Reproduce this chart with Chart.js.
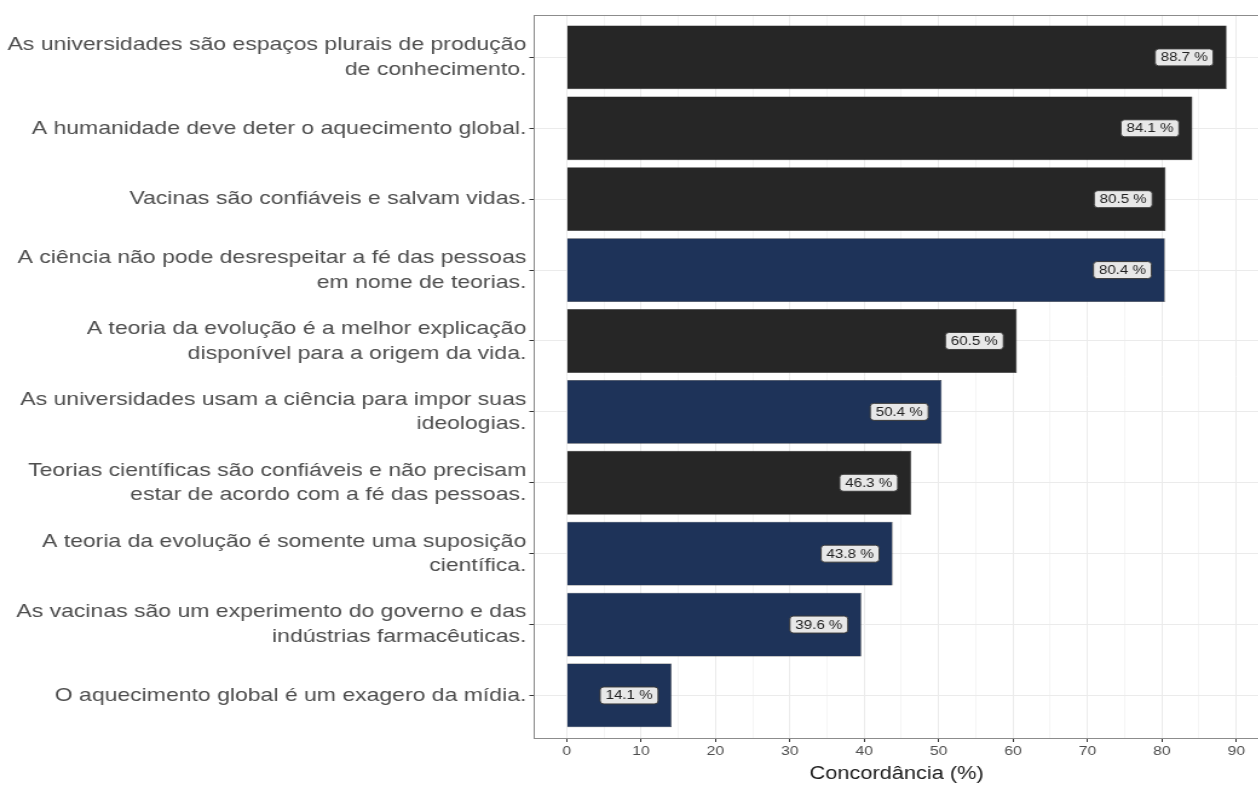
<!DOCTYPE html>
<html>
<head>
<meta charset="utf-8">
<script src="https://cdn.jsdelivr.net/npm/chart.js@4.4.1/dist/chart.umd.min.js"></script>
<style>
  html, body { margin: 0; padding: 0; background: #ffffff; overflow: hidden; }
  #wrap { position: relative; width: 1258px; height: 785px; overflow: hidden; }
  /* the figure is laid out narrow and widened horizontally */
  #c { position: absolute; left: 0; top: 0; transform: scaleX(1.21); transform-origin: 0 0; }
</style>
</head>
<body>
<div id="wrap"><canvas id="c" width="1044" height="785"></canvas></div>
<script>
// Statements, top to bottom (each entry is the wrapped label lines)
const statements = [
  ["As universidades são espaços plurais de produção", "de conhecimento."],
  ["A humanidade deve deter o aquecimento global."],
  ["Vacinas são confiáveis e salvam vidas."],
  ["A ciência não pode desrespeitar a fé das pessoas", "em nome de teorias."],
  ["A teoria da evolução é a melhor explicação", "disponível para a origem da vida."],
  ["As universidades usam a ciência para impor suas", "ideologias."],
  ["Teorias científicas são confiáveis e não precisam", "estar de acordo com a fé das pessoas."],
  ["A teoria da evolução é somente uma suposição", "científica."],
  ["As vacinas são um experimento do governo e das", "indústrias farmacêuticas."],
  ["O aquecimento global é um exagero da mídia."]
];
// Share of agreement (%)
const agreement = [88.7, 84.1, 80.5, 80.4, 60.5, 50.4, 46.3, 43.8, 39.6, 14.1];
// Statement group: "pro" = pro-science wording, "contra" = sceptical wording
const groups = ["pro", "pro", "pro", "contra", "pro", "contra", "pro", "contra", "contra", "contra"];
const xTicks = [0, 10, 20, 30, 40, 50, 60, 70, 80, 90];
const xTitle = "Concordância (%)";

const groupColors = { pro: "#262626", contra: "#1e3359" };
const FONT = "'Liberation Sans', Arial, sans-serif";

// Value boxes drawn inside the bars, like ggplot's geom_label
const valueLabels = {
  id: "valueLabels",
  afterDatasetsDraw(chart) {
    const { ctx } = chart;
    const xs = chart.scales.x, ys = chart.scales.y;
    ctx.save();
    ctx.font = "12.5px " + FONT;
    ctx.textAlign = "center";
    ctx.textBaseline = "middle";
    agreement.forEach((v, i) => {
      const txt = v.toFixed(1) + " %";
      const cx = xs.getPixelForValue(v - 5.7);
      const cy = ys.getPixelForValue(i);
      const w = ctx.measureText(txt).width + 9, h = 17;
      const x0 = cx - w / 2, y0 = cy - h / 2, r = 3;
      ctx.beginPath();
      ctx.roundRect(x0, y0, w, h, r);
      ctx.fillStyle = "#e8e8e8";
      ctx.fill();
      ctx.lineWidth = 1;
      ctx.strokeStyle = "#3a3a3a";
      ctx.stroke();
      ctx.fillStyle = "#222222";
      ctx.fillText(txt, cx, cy + 0.5);
    });
    ctx.restore();
  }
};

// Panel border around the plotting area
const panelBorder = {
  id: "panelBorder",
  afterDraw(chart) {
    const a = chart.chartArea, ctx = chart.ctx;
    ctx.save();
    ctx.strokeStyle = "#8c8c8c";
    ctx.lineWidth = 1;
    ctx.strokeRect(Math.round(a.left) + 0.5, Math.round(a.top) + 0.5,
                   Math.round(a.right - a.left), Math.round(a.bottom - a.top));
    ctx.restore();
  }
};

new Chart(document.getElementById("c"), {
  type: "bar",
  data: {
    datasets: [{
      data: agreement.map((v, i) => ({ x: v, y: i })),
      backgroundColor: groups.map(g => groupColors[g]),
      borderColor: "#1a1a1a",
      borderWidth: 0.5,
      barPercentage: 0.9,
      categoryPercentage: 1.0
    }]
  },
  options: {
    indexAxis: "y",
    responsive: false,
    animation: false,
    layout: { padding: { top: 12, right: 3, left: 0, bottom: 0 } },
    plugins: { legend: { display: false }, tooltip: { enabled: false } },
    scales: {
      x: {
        type: "linear",
        min: -agreement[0] * 0.05,
        max: agreement[0] * 1.05,
        afterBuildTicks(scale) {
          const t = [];
          for (let v = 0; v <= 90; v += 5) t.push({ value: v });
          scale.ticks = t;
        },
        afterFit(scale) { scale.height = 47; },
        grid: {
          color: ctx => (ctx.tick && ctx.tick.value % 10 === 0) ? "#ebebeb" : "#f5f5f5",
          lineWidth: 1,
          tickColor: ctx => (ctx.tick && ctx.tick.value % 10 === 0) ? "#333333" : "rgba(0,0,0,0)",
          tickLength: 4,
          drawTicks: true
        },
        border: { display: false },
        ticks: {
          autoSkip: false,
          maxRotation: 0,
          padding: 2,
          color: "#4d4d4d",
          font: { family: FONT, size: 13 },
          callback: v => xTicks.includes(v) ? String(v) : ""
        },
        title: {
          display: true,
          text: xTitle,
          color: "#1a1a1a",
          font: { family: FONT, size: 18 },
          padding: { top: 0, bottom: 0 }
        }
      },
      y: {
        type: "linear",
        reverse: true,
        offset: false,
        min: -0.6,
        max: statements.length - 1 + 0.6,
        afterBuildTicks(scale) {
          scale.ticks = statements.map((_, i) => ({ value: i }));
        },
        afterFit(scale) { scale.width = 441; },
        grid: {
          offset: false,
          color: "#ebebeb",
          lineWidth: 1,
          tickColor: "#333333",
          tickLength: 3.5
        },
        border: { display: false },
        ticks: {
          autoSkip: false,
          padding: 2.5,
          color: "#4d4d4d",
          font: { family: FONT, size: 19, lineHeight: 1.3 },
          callback: v => statements[v] || ""
        }
      }
    }
  },
  plugins: [valueLabels, panelBorder]
});
</script>
</body>
</html>
